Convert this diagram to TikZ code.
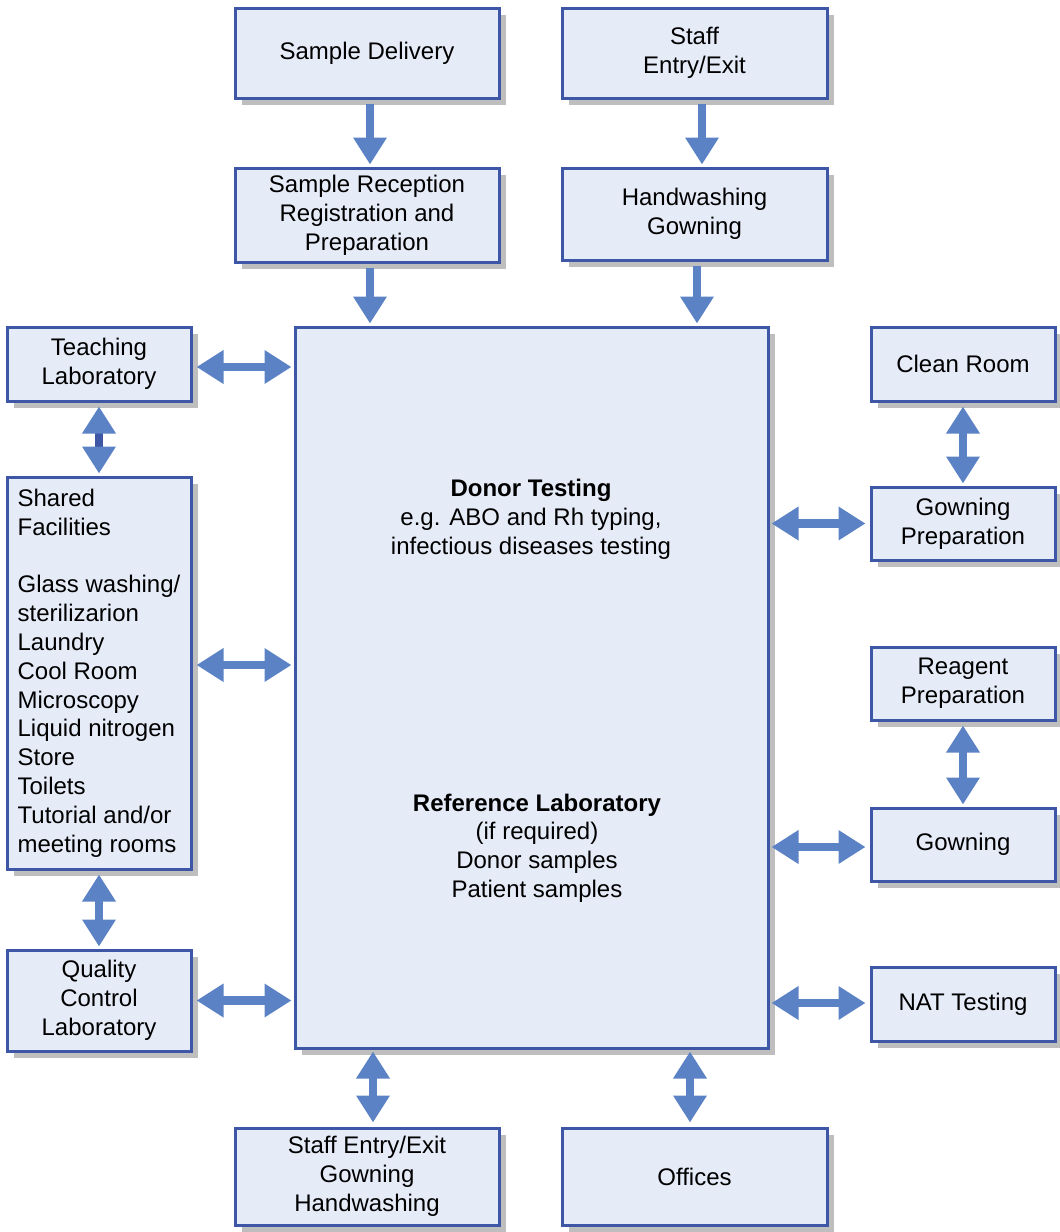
\documentclass[tikz,border=0pt]{standalone}
\usepackage{fontspec}
\setmainfont{Liberation Sans}
\usetikzlibrary{arrows.meta,shadows}
\definecolor{boxfill}{HTML}{E5EBF7}
\definecolor{boxline}{HTML}{3D57A6}
\definecolor{arrowblue}{HTML}{5B82C5}
\definecolor{shadowgray}{HTML}{BEBEBE}
\tikzset{
  box/.style={draw=boxline, line width=1.5pt, fill=boxfill, align=center,
    font=\fontsize{12}{14.4}\selectfont, inner sep=3pt,
    drop shadow={shadow xshift=3.5pt, shadow yshift=-3.5pt, fill=shadowgray, opacity=1}},
  tip/.tip={Triangle[width=16pt,length=13.5pt]},
  fat/.style={line width=4.2pt, draw=arrowblue, fill=arrowblue, -tip,
    shorten <=2pt, shorten >=1pt},
  fatboth/.style={line width=4.2pt, draw=arrowblue, fill=arrowblue, tip-tip,
    shorten <=2pt, shorten >=1pt},
  txt/.style={align=center, font=\fontsize{12}{14.4}\selectfont, inner sep=0pt},
}
\begin{document}
\begin{tikzpicture}[x=0.5pt,y=-0.5pt]
\useasboundingbox (0,0) rectangle (1060,1232);

% top column
\node[box, minimum width=132pt, minimum height=45pt] (sd) at (367,53) {Sample Delivery};
\node[box, minimum width=132.5pt, minimum height=45pt] (se) at (694.5,53) {Staff\\Entry/Exit};
\node[box, minimum width=132pt, minimum height=47pt] (sr) at (367,215) {Sample Reception\\Registration and\\Preparation};
\node[box, minimum width=132.5pt, minimum height=46pt] (hw) at (694.5,214) {Handwashing\\Gowning};

% central laboratory
\node[box, minimum width=236.5pt, minimum height=360.5pt] (main) at (531.5,687.5) {};
\node[txt] (donor) at (531,519) {\textbf{Donor Testing}\\e.g. ABO and Rh typing,\\infectious diseases testing};
\node[txt] (ref) at (537,848) {\textbf{Reference Laboratory}\\(if required)\\Donor samples\\Patient samples};

% left column
\node[box, minimum width=92pt, minimum height=37pt] (tl) at (99,364) {Teaching\\Laboratory};
\node[box, minimum width=92pt, minimum height=196pt, align=left] (sf) at (99,673)
  {Shared\\Facilities\\[14.4pt]Glass washing/\\sterilizarion\\Laundry\\Cool Room\\Microscopy\\Liquid nitrogen\\Store\\Toilets\\Tutorial and/or\\meeting rooms};
\node[box, minimum width=92pt, minimum height=50.5pt] (qc) at (99,1000.5) {Quality\\Control\\Laboratory};

% right column
\node[box, minimum width=92pt, minimum height=37pt] (cr) at (963,364) {Clean Room};
\node[box, minimum width=92pt, minimum height=36.5pt] (gp) at (963,523.5) {Gowning\\Preparation};
\node[box, minimum width=92pt, minimum height=36.5pt] (rp) at (963,683.5) {Reagent\\Preparation};
\node[box, minimum width=92pt, minimum height=36.5pt] (gw) at (963,844.5) {Gowning};
\node[box, minimum width=92pt, minimum height=37pt] (nat) at (963,1004) {NAT Testing};

% bottom row
\node[box, minimum width=132pt, minimum height=48.5pt] (bl) at (367,1176.5) {Staff Entry/Exit\\Gowning\\Handwashing};
\node[box, minimum width=132.5pt, minimum height=48.5pt] (off) at (694.5,1176.5) {Offices};

% one-way flows
\draw[fat] ([xshift=1.5pt]sd.south) -- ([xshift=1.5pt]sr.north);
\draw[fat] ([xshift=3.75pt]se.south) -- ([xshift=3.75pt]hw.north);
\draw[fat] ([xshift=1.5pt]sr.south) -- ([xshift=1.5pt]sr.south |- main.north);
\draw[fat] ([xshift=1.25pt]hw.south) -- ([xshift=1.25pt]hw.south |- main.north);

% two-way flows, left
\draw[fatboth] ([yshift=-1.5pt]tl.east) -- ([yshift=-1.5pt]tl.east -| main.west);
\draw[fatboth] ([yshift=4pt]sf.east) -- ([yshift=4pt]sf.east -| main.west);
\draw[fatboth] (qc.east) -- (qc.east -| main.west);
\draw[line width=4.2pt, draw=boxline, {Triangle[width=16pt,length=13.5pt,color=arrowblue]}-{Triangle[width=16pt,length=13.5pt,color=arrowblue]},
  shorten <=2pt, shorten >=1pt] (tl.south) -- (sf.north);
\draw[fatboth] (sf.south) -- (qc.north);

% two-way flows, right
\draw[fatboth] (cr.south) -- (gp.north);
\draw[fatboth] (rp.south) -- (gw.north);
\draw[fatboth] (gp.west) -- (gp.west -| main.east);
\draw[fatboth] ([yshift=-1.25pt]gw.west) -- ([yshift=-1.25pt]gw.west -| main.east);
\draw[fatboth] ([yshift=0.5pt]nat.west) -- ([yshift=0.5pt]nat.west -| main.east);

% two-way flows, bottom
\draw[fatboth] ([xshift=3pt]bl.north) -- ([xshift=3pt]bl.north |- main.south);
\draw[fatboth] ([xshift=-2.25pt]off.north) -- ([xshift=-2.25pt]off.north |- main.south);
\end{tikzpicture}
\end{document}
